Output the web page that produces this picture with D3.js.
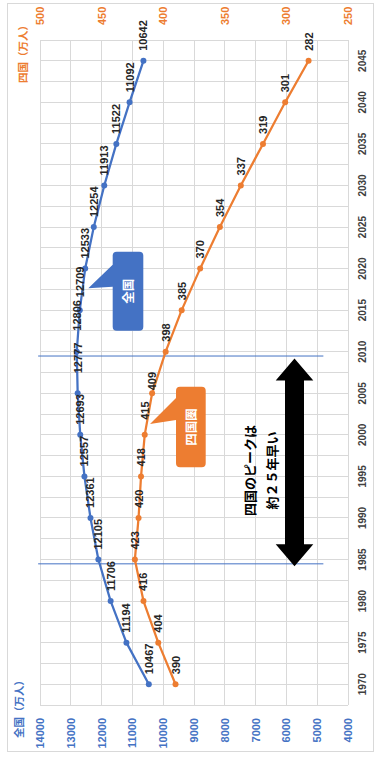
<!DOCTYPE html>
<html>
<head>
<meta charset="utf-8">
<script src="https://cdn.jsdelivr.net/npm/d3@7"></script>
<style>
  html, body { margin: 0; padding: 0; background: #fff; }
  svg { display: block; }
</style>
</head>
<body>
<svg id="chart" width="376" height="765"></svg>
<script>
// Population: Japan (全国) vs Shikoku region (四国), 10k persons
const years = [1970, 1975, 1980, 1985, 1990, 1995, 2000, 2005, 2010, 2015, 2020, 2025, 2030, 2035, 2040, 2045];
const nationalPop = [10467, 11194, 11706, 12105, 12361, 12557, 12693, 12777, 12806, 12709, 12533, 12254, 11913, 11522, 11092, 10642];
const shikokuPop = [390, 404, 416, 423, 420, 418, 415, 409, 398, 385, 370, 354, 337, 319, 301, 282];
const nationalTicks = [4000, 5000, 6000, 7000, 8000, 9000, 10000, 11000, 12000, 13000, 14000];
const shikokuTicks = [250, 300, 350, 400, 450, 500];
const peakYears = [1985, 2010];           // 四国 peak vs 全国 peak
const noteLines = ["四国のピークは", "約２５年早い"];

const BLUE = "#4472C4", ORANGE = "#ED7D31", GRID = "#d9d9d9";
const NUM_FONT = "'Liberation Sans', Arial, sans-serif";
const JP_FONT = "'Noto Sans CJK JP', 'Noto Sans', sans-serif";

// The chart is laid out landscape (765 x 376) and turned a quarter turn
const W = 765, H = 376;
const svg = d3.select("#chart");
const g = svg.append("g").attr("transform", `translate(0,${W}) rotate(-90)`);

const x = d3.scaleBand().domain(years).range([60, 725]).paddingInner(0).paddingOuter(0);
const bw = x.bandwidth();
const cx = yr => x(yr) + bw / 2;
const yearLin = d3.scaleLinear().domain([1970, 2045]).range([cx(1970), cx(2045)]);
const y = d3.scaleLinear().domain([4000, 14000]).range([348, 40]);
const y2 = d3.scaleLinear().domain([250, 500]).range([348, 40]);

// chart frame
g.append("rect")
  .attr("x", 13.5).attr("y", 7.5).attr("width", 748).attr("height", 366)
  .attr("fill", "none").attr("stroke", GRID).attr("stroke-width", 1);

// gridlines: category boundaries and centres
const xGrid = years.map(v => x(v)).concat([x(years[years.length - 1]) + bw], years.map(cx));
g.append("g").selectAll("line").data(xGrid).join("line")
  .attr("x1", d => d).attr("x2", d => d)
  .attr("y1", y(14000)).attr("y2", y(4000))
  .attr("stroke", GRID).attr("stroke-width", 1).attr("shape-rendering", "crispEdges");
g.append("g").selectAll("line").data(nationalTicks).join("line")
  .attr("x1", x.range()[0]).attr("x2", x.range()[1])
  .attr("y1", d => y(d)).attr("y2", d => y(d))
  .attr("stroke", GRID).attr("stroke-width", 1).attr("shape-rendering", "crispEdges");

// axes
const axL = g.append("g").attr("transform", `translate(${x.range()[0]},0)`)
  .call(d3.axisLeft(y).tickValues(nationalTicks).tickSize(0).tickPadding(13).tickFormat(d3.format("d")));
axL.select(".domain").remove();
axL.selectAll("text").attr("fill", BLUE).attr("font-family", NUM_FONT).attr("font-size", 11).attr("font-weight", "bold");

const axR = g.append("g").attr("transform", `translate(${x.range()[1]},0)`)
  .call(d3.axisRight(y2).tickValues(shikokuTicks).tickSize(0).tickPadding(15).tickFormat(d3.format("d")));
axR.select(".domain").remove();
axR.selectAll("text").attr("fill", ORANGE).attr("font-family", NUM_FONT).attr("font-size", 11).attr("font-weight", "bold");

const axB = g.append("g").attr("transform", `translate(0,${y(4000)})`)
  .call(d3.axisBottom(x).tickSize(0).tickFormat(d3.format("d")));
axB.select(".domain").remove();
axB.selectAll("text").attr("y", 14).attr("dy", "0.35em")
  .attr("fill", "#404040").attr("font-family", NUM_FONT).attr("font-size", 10).attr("font-weight", "bold");

// axis titles
g.append("text").attr("x", 27).attr("y", 18.5).attr("dominant-baseline", "central")
  .attr("fill", BLUE).attr("font-family", JP_FONT).attr("font-size", 10.5).attr("font-weight", "bold")
  .text("全国（万人）");
g.append("text").attr("x", 745).attr("y", 22).attr("text-anchor", "end").attr("dominant-baseline", "central")
  .attr("fill", ORANGE).attr("font-family", JP_FONT).attr("font-size", 10.5).attr("font-weight", "bold")
  .text("四国（万人）");

// peak marker lines
const peakX = peakYears.map(v => yearLin(v) - 4.3);
g.append("g").selectAll("line").data(peakX).join("line")
  .attr("x1", d => d).attr("x2", d => d)
  .attr("y1", y(14060)).attr("y2", y(4800))
  .attr("stroke", BLUE).attr("stroke-width", 1);

// series
const series = [
  { values: nationalPop, scale: y, color: BLUE, nudge: { 2005: 10, 2010: 11, 2015: 3 } },
  { values: shikokuPop, scale: y2, color: ORANGE, nudge: { 2005: -7, 2000: 5 } }
];
const line = d3.line();
series.forEach(s => {
  const pts = years.map((yr, i) => [cx(yr), s.scale(s.values[i]), s.values[i], yr]);
  g.append("path").attr("d", line(pts.map(p => [p[0], p[1]])))
    .attr("fill", "none").attr("stroke", s.color).attr("stroke-width", 2.25).attr("stroke-linejoin", "round");
  g.append("g").selectAll("circle").data(pts).join("circle")
    .attr("cx", d => d[0]).attr("cy", d => d[1]).attr("r", 3).attr("fill", s.color);
  g.append("g").selectAll("text").data(pts).join("text")
    .attr("x", d => d[0] + 10 + (s.nudge[d[3]] || 0)).attr("y", d => d[1])
    .attr("dominant-baseline", "central")
    .attr("fill", "#262626").attr("font-family", NUM_FONT).attr("font-size", 11).attr("font-weight", "bold")
    .text(d => d[2]);
});

// double-headed arrow between the two peaks
{
  const x0 = peakX[0] - 2.5, x1 = peakX[1] - 2.5, yc = y(5737);
  const hl = 22, hw = 18.8, sw = 9.5;
  const pts = [[x0, yc], [x0 + hl, yc - hw], [x0 + hl, yc - sw], [x1 - hl, yc - sw], [x1 - hl, yc - hw], [x1, yc],
               [x1 - hl, yc + hw], [x1 - hl, yc + sw], [x0 + hl, yc + sw], [x0 + hl, yc + hw]];
  g.append("path").attr("d", "M" + pts.map(p => p.join(",")).join("L") + "Z").attr("fill", "#000");
}

// note text
g.append("g").selectAll("text").data(noteLines).join("text")
  .attr("x", yearLin(1995.7)).attr("y", (d, i) => y([7214, 6468][i]))
  .attr("text-anchor", "middle").attr("dominant-baseline", "central")
  .attr("fill", "#000").attr("font-family", JP_FONT).attr("font-size", 13).attr("font-weight", "bold")
  .text(d => d);

// callouts
function callout(box, tip, base, color, label) {
  const bx0 = box.x0, bx1 = box.x1, by0 = box.y0, by1 = box.y1, r = 4;
  const px0 = bx0 + (bx1 - bx0) * base[0], px1 = bx0 + (bx1 - bx0) * base[1];
  const d = `M${bx0 + r},${by0} L${px0},${by0} L${tip[0]},${tip[1]} L${px1},${by0} L${bx1 - r},${by0}` +
    ` Q${bx1},${by0} ${bx1},${by0 + r} L${bx1},${by1 - r} Q${bx1},${by1} ${bx1 - r},${by1}` +
    ` L${bx0 + r},${by1} Q${bx0},${by1} ${bx0},${by1 - r} L${bx0},${by0 + r} Q${bx0},${by0} ${bx0 + r},${by0} Z`;
  g.append("path").attr("d", d).attr("fill", color);
  g.append("text").attr("x", (bx0 + bx1) / 2).attr("y", (by0 + by1) / 2)
    .attr("text-anchor", "middle").attr("dominant-baseline", "central")
    .attr("fill", "#fff").attr("font-family", JP_FONT).attr("font-size", 12.5).attr("font-weight", "bold")
    .text(label);
}
callout({ x0: yearLin(2012.53), x1: yearLin(2022.03), y0: y(11640), y1: y(10646) },
        [yearLin(2017.63), y(12432)], [0.557, 0.835], BLUE, "全国");
callout({ x0: yearLin(1996.1), x1: yearLin(2005.8), y0: y2(389.6), y1: y2(365.5) },
        [yearLin(2001.3), y2(410.7)], [0.587, 0.86], ORANGE, "四国圏");
</script>
</body>
</html>
